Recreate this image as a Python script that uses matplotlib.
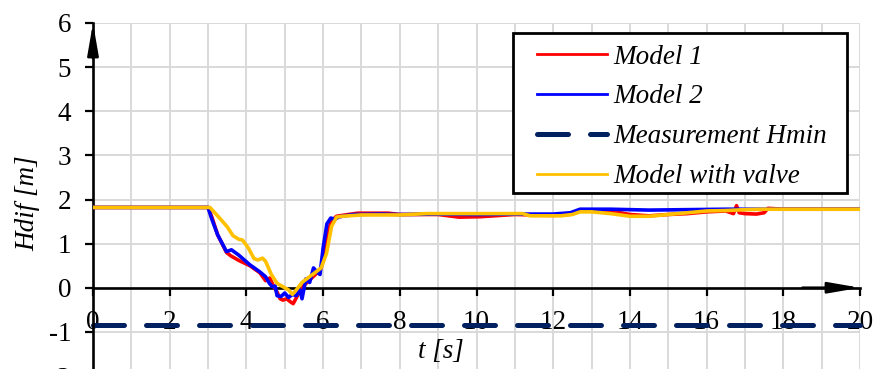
import matplotlib
matplotlib.use("Agg")
import matplotlib.pyplot as plt
from matplotlib.ticker import MultipleLocator
from matplotlib.patches import Rectangle

# time [s] / head difference [m] for each run
t_model1 = [0, 3.0, 3.1, 3.25, 3.48, 3.6, 3.8, 4.09, 4.35, 4.5, 4.61, 4.7, 4.8, 4.88,
            4.95, 5.05, 5.15, 5.22, 5.35, 5.5, 5.65, 5.8, 5.95, 6.05, 6.2, 6.35, 6.5,
            6.9, 7.7, 8, 9, 9.55, 10.1, 11, 12, 12.4, 12.7, 13.5, 14.0, 14.5, 15, 15.5,
            16, 16.5, 16.7, 16.78, 16.85, 17.0, 17.3, 17.5, 17.6, 18, 20]
h_model1 = [1.82, 1.82, 1.6, 1.2, 0.8, 0.72, 0.62, 0.5, 0.34, 0.16, 0.22, 0.05, -0.1,
            -0.25, -0.28, -0.25, -0.32, -0.36, -0.15, 0.05, 0.18, 0.3, 0.45, 0.85, 1.5,
            1.62, 1.64, 1.69, 1.69, 1.66, 1.66, 1.6, 1.61, 1.66, 1.64, 1.66, 1.75,
            1.74, 1.66, 1.63, 1.66, 1.68, 1.72, 1.74, 1.68, 1.86, 1.7, 1.68, 1.67, 1.7,
            1.8, 1.78, 1.78]

t_model2 = [0, 3.0, 3.1, 3.25, 3.48, 3.61, 3.8, 4.09, 4.35, 4.5, 4.6, 4.68, 4.75,
            4.8, 4.9, 5.0, 5.1, 5.2, 5.3, 5.4, 5.45, 5.55, 5.65, 5.75, 5.85, 5.92, 6.0,
            6.1, 6.2, 6.3, 6.4, 6.5, 6.8, 7.5, 8, 9, 10, 11, 12, 12.45, 12.7, 13.5,
            14.5, 15.5, 16.5, 17.5, 18, 20]
h_model2 = [1.82, 1.82, 1.55, 1.2, 0.82, 0.86, 0.74, 0.52, 0.36, 0.25, 0.1, 0.02,
            0.04, -0.18, -0.2, -0.12, -0.22, -0.15, -0.18, -0.05, -0.25, 0.2, 0.12,
            0.45, 0.35, 0.3, 0.9, 1.45, 1.58, 1.55, 1.6, 1.62, 1.66, 1.67, 1.66, 1.67,
            1.66, 1.67, 1.67, 1.7, 1.78, 1.78, 1.76, 1.77, 1.78, 1.78, 1.78, 1.78]

t_valve = [0, 3.05, 3.3, 3.5, 3.65, 3.8, 3.9, 4.05, 4.2, 4.3, 4.42, 4.5, 4.65, 4.8,
           5.0, 5.1, 5.2, 5.3, 5.45, 5.6, 5.8, 5.95, 6.09, 6.22, 6.35, 6.5, 7, 8, 8.7,
           10, 11.2, 11.4, 12.2, 12.5, 12.7, 13.0, 13.5, 14, 14.5, 15, 15.5, 16,
           16.5, 17, 17.5, 18, 20]
h_valve = [1.82, 1.82, 1.58, 1.38, 1.18, 1.1, 1.08, 0.9, 0.66, 0.63, 0.67, 0.6, 0.3,
           0.1, 0.0, -0.05, -0.15, -0.05, 0.12, 0.22, 0.35, 0.45, 0.78, 1.39, 1.6,
           1.62, 1.65, 1.65, 1.68, 1.68, 1.68, 1.63, 1.63, 1.66, 1.72, 1.72, 1.68,
           1.62, 1.62, 1.66, 1.7, 1.74, 1.75, 1.77, 1.78, 1.78, 1.78]

t_meas = [0, 20]
h_min = [-0.85, -0.85]

plt.rcParams['font.family'] = ['Liberation Serif', 'DejaVu Serif']
plt.rcParams['axes.unicode_minus'] = False
FS = 19.5

fig = plt.figure(figsize=(8.74, 3.69), dpi=100)
W, H = 874, 369
ax = fig.add_axes([93 / W, 1 - 376 / H, 767 / W, 353 / H])
ax.set_xlim(0, 20)
ax.set_ylim(-2, 6)

ax.plot(t_model1, h_model1, color='#FF0000', lw=2.6, label='Model 1', zorder=3)
ax.plot(t_model2, h_model2, color='#0000FF', lw=2.6, label='Model 2', zorder=3.1)
ax.plot(t_meas, h_min, color='#002060', lw=3.6, dashes=(6.2, 4.4),
        dash_capstyle='round', label='Measurement Hmin', zorder=2, clip_on=False)
ax.plot(t_valve, h_valve, color='#FFC000', lw=2.6, label='Model with valve', zorder=3.2)

# grid every unit, labels only on even seconds
ax.xaxis.set_major_locator(MultipleLocator(2))
ax.xaxis.set_minor_locator(MultipleLocator(1))
ax.yaxis.set_major_locator(MultipleLocator(1))
ax.grid(which='both', color='#D9D9D9', lw=1.4, zorder=0)
ax.set_axisbelow(True)

for s in ['top', 'right']:
    ax.spines[s].set_visible(False)
ax.spines['bottom'].set_position(('data', 0))
ax.spines['bottom'].set_linewidth(1.9)
ax.spines['left'].set_linewidth(1.9)

ax.tick_params(axis='x', which='major', direction='out', length=5.8, width=1.6,
               pad=10.5, labelsize=FS)
ax.tick_params(axis='x', which='minor', length=0)
ax.tick_params(axis='y', direction='out', length=5.8, width=1.6, pad=10,
               labelsize=FS)

# arrow heads on both axes
arrow = dict(arrowstyle='-|>,head_length=1.9,head_width=0.33', color='black',
             lw=1.9, mutation_scale=10, shrinkA=0, shrinkB=0)
ax.annotate('', xy=(20, 0), xytext=(18.5, 0), arrowprops=arrow, annotation_clip=False)
ax.annotate('', xy=(0, 6), xytext=(0, 5.2), arrowprops=arrow, annotation_clip=False)

ax.set_ylabel('Hdif [m]', fontsize=FS, style='italic')
ax.yaxis.label.set_va('center')
ax.yaxis.set_label_coords(-0.085, 0.49)
ax.set_xlabel('t [s]', fontsize=FS, style='italic')
ax.xaxis.label.set_va('center')
ax.xaxis.set_label_coords(0.454, 0.068)

# legend box drawn separately so the inner padding can be set freely
ax.add_patch(Rectangle((513 / W, 1 - 193 / H), 334 / W, 160 / H,
                       transform=fig.transFigure, facecolor='white',
                       edgecolor='black', lw=2, zorder=4, clip_on=False))
leg = ax.legend(loc='upper left', bbox_to_anchor=(537 / W, 1 - 44.5 / H),
                bbox_transform=fig.transFigure, borderaxespad=0, borderpad=0,
                frameon=False, handlelength=2.58, handletextpad=0.22,
                labelspacing=0.55, prop={'size': FS, 'style': 'italic'})
leg.set_zorder(5)
for line in leg.get_lines():
    line.set_linewidth(2)
leg.get_lines()[2].set_linewidth(3.6)

fig.savefig('out.png', dpi=100)
